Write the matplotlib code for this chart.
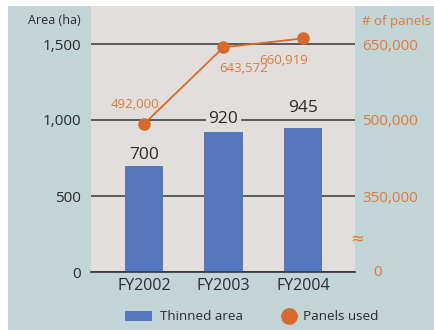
import numpy as np
import matplotlib
matplotlib.use("Agg")
import matplotlib.pyplot as plt
from matplotlib.patches import Rectangle
from matplotlib.lines import Line2D
from matplotlib.scale import FuncScale

# ---- data ----
years = ["FY2002", "FY2003", "FY2004"]
area_ha = [700, 920, 945]
panels = [492000, 643572, 660919]
area_ticks = [0, 500, 1000, 1500]
panel_ticks = [350000, 500000, 650000]

# ---- style ----
plt.rcParams['font.family'] = ['Open Sans', 'DejaVu Sans']
BG = "#c1d5d7"
PLOT_BG = "#e2dedb"
BAR = "#5577bd"
ORANGE = "#d8692c"
ORANGE_TXT = "#e07a3a"
DARK = "#2b2b2b"

fig = plt.figure(figsize=(4.35, 3.3), dpi=100)
fig.patch.set_facecolor("white")
fig.add_artist(Rectangle((8/435, 0), 1 - 8/435, 1 - 6/330, transform=fig.transFigure,
                         facecolor=BG, edgecolor="none", zorder=-10))

ax = fig.add_axes([91/435, (330-272)/330, 264/435, 266/330])
ax.set_facecolor(PLOT_BG)
x = np.arange(len(years))
ax.bar(x, area_ha, width=0.48, color=BAR, zorder=2)
ax.set_xlim(-0.667, 2.655)
ax.set_ylim(0, 1750)
ax.set_yticks(area_ticks)
ax.set_yticklabels([f"{v:,}" for v in area_ticks])
ax.set_xticks(x)
ax.set_xticklabels(years)
ax.tick_params(axis='y', length=0, pad=7, labelsize=11, labelcolor=DARK)
ax.tick_params(axis='x', length=0, pad=4, labelsize=11.5, labelcolor=DARK)
for s in ["left", "right", "top"]:
    ax.spines[s].set_visible(False)
ax.spines["bottom"].set_color("#333333")
ax.spines["bottom"].set_linewidth(1.2)
ax.set_axisbelow(True)
ax.yaxis.grid(True, color="#444444", linewidth=1.2)

bar_offsets = [3, 5, 12]
for xi, v, off in zip(x, area_ha, bar_offsets):
    ax.annotate(f"{v}", (xi, v), xytext=(0, off), textcoords="offset pixels",
                ha="center", va="bottom", fontsize=12.5, color=DARK, zorder=5,
                bbox=dict(boxstyle="square,pad=0.15", facecolor=PLOT_BG, edgecolor="none"))

ax.text(-10/264, 1 - 15/266, "Area (ha)", transform=ax.transAxes, ha="right", va="center",
        fontsize=9, color=DARK)

# secondary (broken) axis: 0..350,000 compressed, then 300 panels per ha-unit
def fwd(v):
    return np.interp(v, [0, 350000, 2000000], [0, 500, 500 + 1650000/300])
def inv(u):
    return np.interp(u, [0, 500, 500 + 1650000/300], [0, 350000, 2000000])

ax2 = ax.twinx()
ax2.set_yscale(FuncScale(ax2, (fwd, inv)))
ax2.set_ylim(0, inv(1750))
ax2.set_yticks(panel_ticks)
ax2.set_yticklabels([f"{v:,}" for v in panel_ticks])
ax2.yaxis.set_minor_locator(matplotlib.ticker.NullLocator())
ax2.tick_params(axis='y', length=0, pad=5, labelsize=11, labelcolor=ORANGE_TXT)
for s in ax2.spines.values():
    s.set_visible(False)
ax2.plot(x, panels, color=ORANGE, linewidth=1.3, marker="o", markersize=8, zorder=4)
ax2.text(1 + 23/264, 0, "0", transform=ax2.get_yaxis_transform(), ha="center", va="center",
         fontsize=11, color=ORANGE_TXT)
ax2.text(1 + 2/264, 34/266, "≈", transform=ax2.transAxes, ha="center", va="center",
         fontsize=12, color=ORANGE_TXT, family="DejaVu Sans")
ax2.text(1 + 7/264, 1 - 16/266, "# of panels", transform=ax2.transAxes, ha="left", va="center",
         fontsize=9.5, color=ORANGE_TXT)

panel_offsets = [(-9, 20), (20, -21), (-19, -22)]
for xi, v, (dx, dy) in zip(x, panels, panel_offsets):
    ax2.annotate(f"{v:,}", (xi, v), xytext=(dx, dy), textcoords="offset pixels",
                 ha="center", va="center", fontsize=9.5, color=ORANGE_TXT)

# legend (manual)
fig.add_artist(Rectangle((125/435, (330-321)/330), 27/435, 10/330, transform=fig.transFigure,
                         facecolor=BAR, edgecolor="none"))
fig.text(160/435, (330-316)/330, "Thinned area", ha="left", va="center", fontsize=9.7, color=DARK)
fig.add_artist(Line2D([289/435], [(330-316)/330], transform=fig.transFigure, marker="o",
                      markersize=11, color=ORANGE, linestyle="none"))
fig.text(303/435, (330-316)/330, "Panels used", ha="left", va="center", fontsize=9.7, color=DARK)

fig.savefig("out.png", dpi=100, facecolor=fig.get_facecolor())
